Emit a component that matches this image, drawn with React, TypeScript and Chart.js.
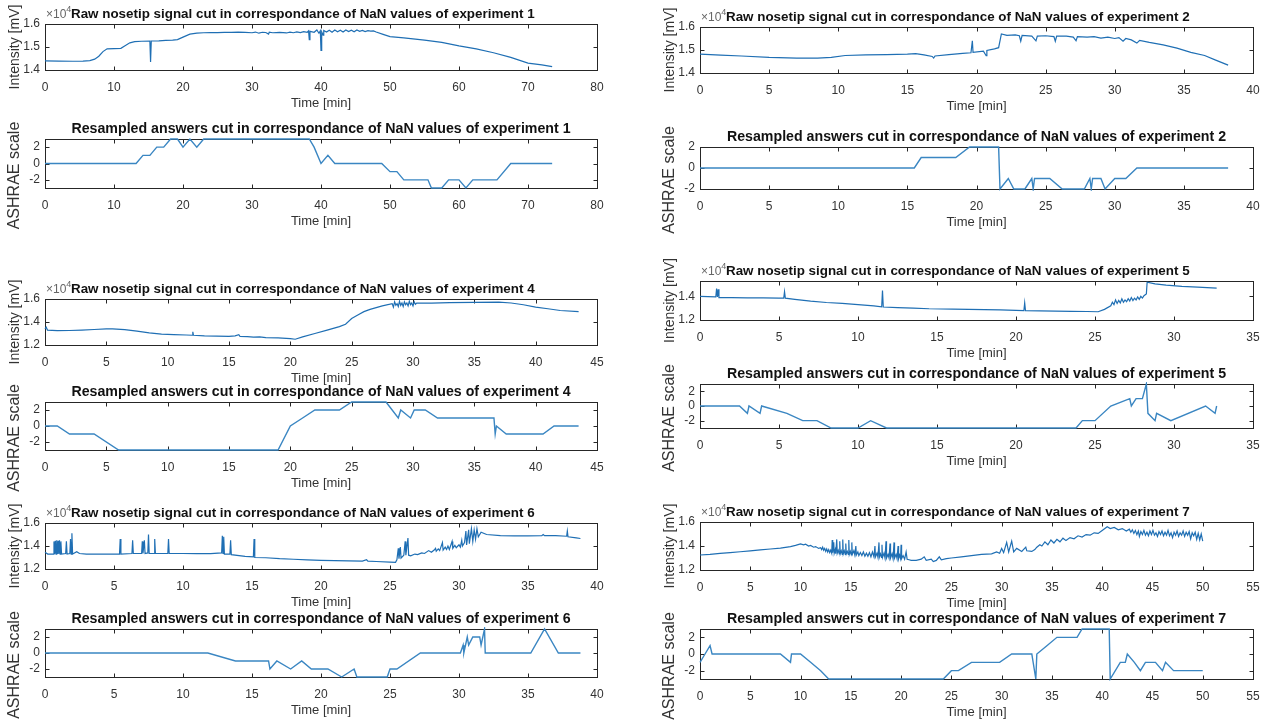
import React, { useEffect, useRef } from "react";
import { Chart, registerables } from "chart.js";
Chart.register(...registerables);

type Pt = [number, number];

// ---------- DATA (time [min], value) ----------
const exp1Signal: Pt[] = [
  [0, 14400], [2, 14390], [4, 14380], [5.5, 14390], [6.5, 14410], [7.2, 14470], [7.8, 14600], [8.4, 14800], [9, 14920],
  [10, 14930], [11, 14940], [11.6, 15050], [12.3, 15180], [13, 15230], [14, 15250], [15.2, 15260], [15.3, 14350],
  [15.4, 15260], [16.5, 15270], [17.5, 15290], [18.5, 15300], [19.2, 15320], [20, 15430], [21, 15560], [22, 15600],
  [23, 15620], [24, 15630], [25, 15625], [26, 15640], [27, 15635], [28, 15650], [29, 15640], [30, 15620], [30.5, 15650],
  [31, 15600], [31.5, 15640], [32, 15630], [32.4, 15560], [32.5, 15640], [33, 15620], [34, 15640], [35, 15610],
  [35.5, 15650], [36, 15620], [36.5, 15660], [37, 15630], [37.5, 15670], [38, 15640], [38.2, 15700], [38.3, 15320],
  [38.4, 15680], [39, 15640], [39.4, 15740], [39.7, 15600], [39.9, 15700], [40, 14850], [40.1, 15660], [40.3, 15520],
  [40.4, 15720], [40.8, 15650], [41.2, 15730], [41.6, 15640], [42, 15740], [42.4, 15660], [42.8, 15730], [43.2, 15650],
  [43.6, 15740], [44, 15670], [44.4, 15730], [44.8, 15660], [45.2, 15740], [45.6, 15680], [46, 15720], [46.4, 15670],
  [46.8, 15710], [47.2, 15690], [47.6, 15700], [48, 15650], [49, 15550], [50, 15450], [52, 15400], [55, 15300],
  [57.5, 15200], [60, 15050], [62.5, 14920], [65, 14750], [67.5, 14550], [70, 14300], [72, 14220], [73.5, 14150],
];
const exp1Answers: Pt[] = [
  [0, 0], [13.2, 0], [14.2, 1], [15.2, 1], [16.2, 2], [17.2, 2], [18.2, 3], [19.2, 3], [20, 2], [21, 3], [22, 2], [23, 3],
  [38.3, 3], [39, 2], [40, 0], [41, 1], [42, 0], [48.8, 0], [50, -1], [51, -1], [52, -2], [55.5, -2], [56, -3], [57.5, -3],
  [58.5, -2], [60, -2], [61, -3], [62, -2], [65.5, -2], [67.5, 0], [73.5, 0],
];

const exp2Signal: Pt[] = [
  [0, 14820], [1.5, 14780], [3, 14740], [5, 14680], [7, 14650], [8.5, 14650], [9.5, 14680], [10.5, 14760], [12, 14790],
  [13.5, 14800], [15, 14820], [15.6, 14840], [16.2, 14790], [16.8, 14720], [16.9, 14650], [17, 14740], [18, 14800],
  [19, 14850], [19.6, 14880], [19.7, 15400], [19.75, 14900], [20.5, 14950], [20.7, 14750], [20.75, 14980], [21.3, 15050],
  [21.6, 15100], [21.8, 15700], [22.2, 15640], [22.8, 15660], [23.1, 15620], [23.2, 15380], [23.3, 15640], [24, 15600],
  [24.3, 15400], [24.4, 15600], [25, 15620], [25.6, 15580], [25.7, 15380], [25.8, 15600], [26.5, 15600], [27, 15560],
  [27.2, 15400], [27.3, 15580], [28, 15560], [28.5, 15580], [29, 15520], [29.5, 15560], [30, 15500], [30.3, 15540],
  [30.6, 15380], [30.8, 15500], [31.2, 15440], [31.6, 15300], [31.8, 15420], [32.5, 15330], [33.5, 15220], [34.5, 15080],
  [35.5, 14900], [36.5, 14760], [37.3, 14560], [38.2, 14340],
];
const exp2Answers: Pt[] = [
  [0, 0], [15.5, 0], [16, 1], [18.5, 1], [19.5, 2], [21.6, 2], [21.7, -2], [22.3, -1], [22.7, -2], [23.5, -2], [24, -1],
  [24.1, -2], [24.2, -1], [25.3, -1], [26.2, -2], [27.8, -2], [28.2, -1], [28.3, -2], [28.4, -1], [29, -1], [29.3, -2],
  [30, -1], [30.8, -1], [31.6, 0], [38.2, 0],
];

const exp4Signal: Pt[] = [
  [0, 13400], [0.1, 13550], [0.2, 13300], [1, 13250], [2, 13260], [3, 13300], [4, 13350], [5, 13400], [5.5, 13400],
  [6.5, 13330], [7.5, 13200], [8.5, 13050], [9.5, 12950], [10.5, 12900], [11.5, 12870], [12, 12850], [12.05, 13150],
  [12.1, 12850], [13, 12800], [14, 12780], [15, 12750], [15.5, 12800], [15.8, 12900], [15.9, 12740], [16.5, 12730],
  [17, 12680], [17.5, 12700], [18, 12640], [19, 12620], [20, 12550], [20.4, 12500], [21, 12700], [22, 13000], [23, 13300],
  [24, 13600], [24.5, 13800], [25, 14300], [25.5, 14600], [26, 14900], [26.5, 15100], [27.5, 15400], [28.3, 15600],
  [28.4, 15300], [28.5, 15750], [28.6, 15450], [28.7, 15600], [28.8, 15350], [28.9, 15800], [29.0, 15450], [29.1, 15650],
  [29.2, 15350], [29.3, 15750], [29.4, 15500], [29.5, 15650], [29.6, 15400], [29.7, 15800], [29.8, 15500], [29.9, 15650],
  [30.0, 15400], [30.1, 15750], [30.2, 15550], [30.3, 15650], [30.6, 15650], [31.5, 15650], [33, 15680], [35, 15700],
  [37, 15720], [38, 15650], [39, 15500], [40, 15300], [41, 15150], [42, 15000], [43.5, 14900],
];
const exp4Answers: Pt[] = [
  [0, 0], [1, 0], [2, -1], [4, -1], [6, -3], [19, -3], [20, 0], [21, 1], [22, 2], [24, 2], [25, 3], [27.8, 3], [28.8, 1],
  [29, 2], [29.8, 1], [30.1, 2], [31, 2], [32, 1], [36.6, 1], [36.7, -1], [36.8, 0], [37.6, -1], [40.6, -1], [41.5, 0],
  [43.5, 0],
];

const exp5Signal: Pt[] = [
  [0, 14000], [0.5, 13980], [1, 13950], [1.05, 14650], [1.1, 13950], [1.15, 14600], [1.2, 13900], [2, 13900], [3, 13880],
  [4, 13870], [5, 13850], [5.3, 13850], [5.35, 14400], [5.4, 13850], [6, 13750], [7, 13600], [8, 13480], [9, 13400],
  [10, 13300], [11, 13200], [11.5, 13120], [11.55, 14500], [11.6, 13100], [12.5, 13050], [13.5, 13000], [14.5, 12950],
  [16, 12920], [17, 12900], [18, 12880], [19, 12850], [20, 12820], [20.5, 12800], [20.55, 13450], [20.6, 12800],
  [21.5, 12780], [22.5, 12750], [23.5, 12730], [24.5, 12720], [25.2, 12700], [25.6, 12900], [26, 13200], [26.1, 13500],
  [26.2, 13300], [26.3, 13700], [26.4, 13400], [26.5, 13650], [26.6, 13450], [26.7, 13800], [26.8, 13500], [26.9, 13700],
  [27.0, 13550], [27.1, 13800], [27.2, 13600], [27.3, 13900], [27.4, 13650], [27.5, 13850], [27.6, 13700], [27.7, 13950],
  [27.8, 13750], [27.9, 14000], [28.0, 13850], [28.1, 14050], [28.25, 14200], [28.3, 15200], [28.8, 15050], [29.5, 14950],
  [30.5, 14850], [31.5, 14780], [32.7, 14700],
];
const exp5Answers: Pt[] = [
  [0, 0], [2.5, 0], [3, -1], [3.1, 0], [3.8, -1], [3.9, 0], [5.5, -1], [6.5, -2], [7.4, -2], [8.3, -3], [10, -3],
  [10.8, -2], [11.8, -3], [23.8, -3], [24.2, -2], [25, -2], [26, 0], [27.2, 1], [27.3, 0], [27.6, 1], [28, 1], [28.25, 3],
  [28.35, -1], [28.8, -2], [28.9, -1], [29.8, -2], [32, 0], [32.6, -1], [32.7, 0],
];

const exp6Signal: Pt[] = [
  [0, 13450], [0.2, 13300], [0.6, 13300], [0.65, 14400], [0.7, 13300], [0.75, 14450], [0.8, 13300], [0.85, 14500],
  [0.9, 13300], [0.95, 14450], [1.0, 13300], [1.05, 14500], [1.1, 13300], [1.15, 14400], [1.2, 13300], [1.5, 13350],
  [1.55, 14400], [1.6, 13300], [1.8, 13350], [1.85, 14600], [1.9, 13300], [1.95, 15100], [2.0, 13300], [2.3, 13500],
  [2.5, 13350], [3, 13300], [4, 13300], [5, 13300], [5.4, 13300], [5.45, 14600], [5.5, 13300], [6.3, 13350],
  [6.35, 14500], [6.4, 13350], [7.0, 13350], [7.05, 14400], [7.1, 13350], [7.2, 14500], [7.25, 13350], [7.45, 13400],
  [7.5, 15000], [7.55, 13350], [7.9, 13350], [7.95, 14600], [8.0, 13350], [8.9, 13350], [8.95, 14600], [9.0, 13350],
  [10, 13350], [11, 13330], [12, 13330], [12.8, 13400], [12.85, 14900], [12.9, 13350], [12.95, 14800], [13.0, 13300],
  [13.4, 13300], [13.45, 14500], [13.5, 13250], [14.5, 13100], [15.1, 13050], [15.15, 14600], [15.2, 13000],
  [16, 12980], [17, 12900], [18, 12850], [19, 12800], [20, 12750], [21, 12720], [22, 12700], [23, 12680], [23.3, 12800],
  [23.4, 12680], [24, 12650], [25, 12600], [25.4, 12580], [25.5, 12800], [25.6, 13800], [25.65, 12900], [25.75, 13900],
  [25.8, 12950], [26, 13200], [26.1, 14400], [26.15, 13200], [26.3, 14700], [26.35, 13200], [26.5, 13150], [26.8, 13300],
  [27, 13250], [27.3, 13400], [27.5, 13350], [27.8, 13600], [28, 13450], [28.2, 13650], [28.3, 13800], [28.35, 13550],
  [28.5, 13750], [28.6, 13600], [28.8, 14300], [28.85, 13650], [29.0, 13900], [29.1, 13700], [29.2, 14000],
  [29.3, 13700], [29.5, 14400], [29.55, 13800], [29.7, 14050], [29.8, 13850], [30, 14100], [30.1, 13900], [30.2, 14500],
  [30.25, 14000], [30.4, 14300], [30.5, 15300], [30.55, 14100], [30.7, 15400], [30.75, 14200], [30.9, 15500], [31, 14400],
  [31.1, 15400], [31.2, 14600], [31.3, 15500], [31.4, 14800], [31.6, 15200], [32, 15000], [33, 14900], [34, 14880],
  [35, 14880], [36, 14900], [36.1, 15000], [36.2, 14900], [37, 14900], [37.8, 14850], [37.85, 15300], [37.9, 14800],
  [38.5, 14700], [38.8, 14650],
];
const exp6Answers: Pt[] = [
  [0, 0], [11.8, 0], [13.8, -1], [16.2, -1], [16.3, -2], [16.8, -1], [17.8, -2], [18.6, -1], [19.3, -2], [20.5, -2],
  [21.5, -3], [22.4, -2], [22.6, -3], [24.8, -3], [25, -2], [25.5, -2], [27.2, 0], [30.1, 0], [30.3, 1], [30.35, 0],
  [30.6, 2], [30.7, 1], [31, 2], [31.5, 2], [31.6, 1], [31.85, 3], [31.9, 0], [35.2, 0], [36.2, 3], [37.2, 0], [38.8, 0],
];

const exp7Signal: Pt[] = [
  [0, 13250], [1, 13300], [2, 13380], [3, 13450], [4, 13520], [5, 13600], [6, 13680], [7, 13750], [8, 13830], [9, 13950],
  [9.5, 14050], [10, 14180], [10.3, 14100], [10.5, 14150], [10.8, 14000], [11.0, 14050], [11.3, 13900], [11.5, 13950],
  [11.8, 13800], [12.0, 13850], [12.1, 13700], [12.2, 13900], [12.3, 13650], [12.4, 13800], [12.5, 13550], [12.6, 13750],
  [12.7, 13500], [12.8, 13700], [12.9, 13450], [13.0, 13650], [13.1, 13400], [13.15, 14500], [13.2, 13450], [13.3, 14300],
  [13.35, 13400], [13.45, 13700], [13.5, 13350], [13.6, 14550], [13.65, 13400], [13.75, 13650], [13.85, 13350],
  [13.9, 14400], [13.95, 13350], [14.05, 13600], [14.15, 13300], [14.2, 14550], [14.25, 13350], [14.35, 13600],
  [14.45, 13300], [14.5, 14200], [14.55, 13350], [14.65, 13550], [14.75, 13300], [14.8, 14500], [14.85, 13300],
  [14.95, 13550], [15.05, 13250], [15.1, 14300], [15.15, 13300], [15.3, 13600], [15.4, 13250], [15.5, 14000],
  [15.55, 13250], [15.7, 13500], [15.8, 13200], [15.95, 13450], [16.1, 13200], [16.25, 13500], [16.4, 13150],
  [16.55, 13400], [16.7, 13150], [16.85, 13450], [17.0, 13100], [17.15, 13500], [17.3, 13100], [17.4, 14000],
  [17.45, 13100], [17.6, 13400], [17.7, 13050], [17.8, 14300], [17.85, 13100], [17.95, 13350], [18.05, 13050],
  [18.1, 14100], [18.15, 13050], [18.3, 13400], [18.4, 13000], [18.5, 14400], [18.55, 13000], [18.7, 13300],
  [18.8, 13000], [18.9, 14200], [18.95, 13000], [19.1, 13350], [19.2, 12950], [19.3, 14300], [19.35, 13000],
  [19.5, 13300], [19.6, 12950], [19.7, 14000], [19.75, 12950], [19.85, 13250], [19.95, 12950], [20.0, 14100],
  [20.05, 12950], [20.2, 13200], [20.35, 12900], [20.5, 13500], [20.6, 12900], [20.8, 12850], [21, 12800], [21.5, 12800],
  [22, 12900], [22.3, 13100], [22.5, 12800], [23, 12900], [23.2, 12700], [23.5, 12800], [23.8, 13100], [24, 12850],
  [24.5, 12950], [25, 13000], [26, 13100], [27, 13200], [28, 13300], [29, 13350], [29.5, 13500], [29.8, 13400],
  [30, 13800], [30.2, 13450], [30.5, 14300], [30.7, 13500], [31, 14400], [31.2, 13500], [31.5, 13800], [32, 13550],
  [32.4, 13900], [32.5, 13600], [33, 13550], [33.3, 13700], [33.5, 13900], [33.8, 14100], [34, 14000], [34.3, 14350],
  [34.6, 14100], [34.9, 14500], [35.2, 14250], [35.5, 14550], [35.8, 14350], [36.1, 14650], [36.4, 14450], [36.8, 14700],
  [37.2, 14600], [37.6, 14850], [38, 14750], [38.4, 14950], [38.8, 14900], [39.2, 15100], [39.6, 15050], [40, 15300],
  [40.5, 15600], [40.8, 15450], [41.2, 15550], [41.6, 15350], [42, 15450], [42.4, 15250], [42.7, 15400], [42.85, 15150],
  [43.0, 15350], [43.15, 15050], [43.3, 15300], [43.45, 14950], [43.6, 15250], [43.7, 14800], [43.85, 15200],
  [44.0, 14950], [44.15, 15300], [44.3, 14900], [44.45, 15150], [44.6, 14850], [44.75, 15250], [44.9, 14950],
  [45.05, 15300], [45.2, 14900], [45.35, 15100], [45.5, 14800], [45.65, 15200], [45.8, 14950], [45.95, 15250],
  [46.1, 14850], [46.25, 15150], [46.4, 14900], [46.55, 15300], [46.7, 14850], [46.85, 15100], [47.0, 14700],
  [47.15, 15150], [47.3, 14900], [47.45, 15250], [47.6, 14800], [47.75, 15100], [47.9, 14900], [48.05, 15250],
  [48.2, 14800], [48.35, 15150], [48.5, 14900], [48.65, 15200], [48.8, 14600], [48.95, 15100], [49.1, 14850],
  [49.25, 15150], [49.4, 14550], [49.55, 15050], [49.7, 14500], [49.85, 15000], [50.0, 14400],
];
const exp7Answers: Pt[] = [
  [0, -1], [0.5, 0], [1, 1], [1.2, 0], [8, 0], [9, -1], [9.1, 0], [10, 0], [11, -1], [12, -2], [12.8, -3], [24.2, -3],
  [25, -2], [25.7, -2], [27, -1], [29.8, -1], [31, 0], [33, 0], [33.4, -3], [33.5, 0], [34.5, 1], [35.5, 2], [37.5, 2],
  [38, 3], [40.7, 3], [40.8, -3], [41.8, -1], [42.3, -1], [42.5, 0], [43.2, -1], [43.8, -2], [44.3, -1], [45.3, -1],
  [46, -2], [46.3, -1], [47.1, -2], [50, -2],
];

// ---------- AXIS TICKS ----------
const signalTicksFine = [14000, 15000, 16000];
const signalTicksWide = [12000, 14000, 16000];
const signalTicksExp5 = [12000, 14000];
const answerTicks = [-2, 0, 2];

const SIGNAL_TITLE = (n: number) => `Raw nosetip signal cut in correspondance of NaN values of experiment ${n}`;
const ANSWER_TITLE = (n: number) => `Resampled answers cut in correspondance of NaN values of experiment ${n}`;

// ---------- LAYOUT ----------
const FONT = '"Liberation Sans", Arial, Helvetica, sans-serif';
const L = 45; // room left of plot box
const T = 24; // room above plot box
const B = 52; // room below plot box
const R = 20; // room right of plot box
const LEFT_X = 45, RIGHT_X = 700, LEFT_W = 552, RIGHT_W = 553;
const SIGNAL_COLOR = "#1f6fb4";
const ANSWER_COLOR = "#3a86c2";

type PanelSpec = {
  title: string;
  exponent: boolean;
  yLabel: string;
  yLabelShift: number;
  data: Pt[];
  xMax: number;
  xStep: number;
  yMin: number;
  yMax: number;
  yTicks: number[];
  signal: boolean;
  box: { left: number; top: number; width: number; height: number };
};

const sig = (n: number, data: Pt[], xMax: number, xStep: number, yMin: number, yMax: number, yTicks: number[], left: number, width: number, top: number, height: number): PanelSpec => ({
  title: SIGNAL_TITLE(n), exponent: true, yLabel: "Intensity [mV]", yLabelShift: 0, data, xMax, xStep, yMin, yMax, yTicks, signal: true,
  box: { left, top, width, height },
});
const ans = (n: number, data: Pt[], xMax: number, xStep: number, yMin: number, yMax: number, left: number, width: number, top: number, height: number): PanelSpec => ({
  title: ANSWER_TITLE(n), exponent: false, yLabel: "ASHRAE scale", yLabelShift: 12, data, xMax, xStep, yMin, yMax, yTicks: answerTicks, signal: false,
  box: { left, top, width, height },
});

const panels: PanelSpec[] = [
  sig(1, exp1Signal, 80, 10, 14000, 16000, signalTicksFine, LEFT_X, LEFT_W, 24, 46),
  ans(1, exp1Answers, 80, 10, -3, 3, LEFT_X, LEFT_W, 139, 49),
  sig(2, exp2Signal, 40, 5, 14000, 16000, signalTicksFine, RIGHT_X, RIGHT_W, 27, 46),
  ans(2, exp2Answers, 40, 5, -2, 2, RIGHT_X, RIGHT_W, 147, 42),
  sig(4, exp4Signal, 45, 5, 12000, 16000, signalTicksWide, LEFT_X, LEFT_W, 299, 46),
  ans(4, exp4Answers, 45, 5, -3, 3, LEFT_X, LEFT_W, 402, 48),
  sig(5, exp5Signal, 35, 5, 12000, 15300, signalTicksExp5, RIGHT_X, RIGHT_W, 281, 39),
  ans(5, exp5Answers, 35, 5, -3, 3, RIGHT_X, RIGHT_W, 384, 44),
  sig(6, exp6Signal, 40, 5, 12000, 16000, signalTicksWide, LEFT_X, LEFT_W, 523, 46),
  ans(6, exp6Answers, 40, 5, -3, 3, LEFT_X, LEFT_W, 629, 48),
  sig(7, exp7Signal, 55, 5, 12000, 16000, signalTicksWide, RIGHT_X, RIGHT_W, 522, 48),
  ans(7, exp7Answers, 55, 5, -3, 3, RIGHT_X, RIGHT_W, 629, 50),
];

// ---------- MATLAB-like decorations ----------
const matlabPlugin = {
  id: "matlabAxes",
  beforeDatasetsDraw(chart: any) {
    const { ctx, chartArea: a, scales } = chart;
    ctx.save();
    ctx.strokeStyle = "#262626";
    ctx.lineWidth = 1;
    const l = Math.round(a.left) + 0.5, t = Math.round(a.top) + 0.5;
    const r = Math.round(a.right) + 0.5, b = Math.round(a.bottom) + 0.5;
    ctx.strokeRect(l, t, r - l, b - t);
    const tl = 4;
    ctx.beginPath();
    const xs = scales.x;
    xs.ticks.forEach((_t: any, i: number) => {
      const px = Math.round(xs.getPixelForTick(i)) + 0.5;
      ctx.moveTo(px, b); ctx.lineTo(px, b - tl);
      ctx.moveTo(px, t); ctx.lineTo(px, t + tl);
    });
    const ys = scales.y;
    ys.ticks.forEach((_t: any, i: number) => {
      const py = Math.round(ys.getPixelForTick(i)) + 0.5;
      ctx.moveTo(l, py); ctx.lineTo(l + tl, py);
      ctx.moveTo(r, py); ctx.lineTo(r - tl, py);
    });
    ctx.stroke();
    ctx.restore();
  },
  afterDraw(chart: any, _args: any, opts: any) {
    const { ctx, chartArea: a } = chart;
    ctx.save();
    const ty = a.top - 10;
    ctx.fillStyle = "#111";
    ctx.textBaseline = "middle";
    if (opts.exponent) {
      ctx.font = `bold 13.4px ${FONT}`;
      ctx.textAlign = "left";
      ctx.fillText(opts.title, a.left + 26, ty);
      ctx.fillStyle = "#666";
      ctx.font = `12px ${FONT}`;
      ctx.fillText("\u00d710", a.left + 1, ty + 1);
      const w = ctx.measureText("\u00d710").width;
      ctx.font = `9px ${FONT}`;
      ctx.fillText("4", a.left + 1 + w, ty - 4);
    } else {
      ctx.font = `bold 14.2px ${FONT}`;
      ctx.textAlign = "center";
      ctx.fillText(opts.title, (a.left + a.right) / 2, ty);
    }

    // y label
    ctx.save();
    ctx.translate(15, (a.top + a.bottom) / 2 + opts.yLabelShift);
    ctx.rotate(-Math.PI / 2);
    ctx.textAlign = "center";
    ctx.textBaseline = "middle";
    ctx.fillStyle = "#333";
    ctx.font = `${opts.exponent ? 14 : 16}px ${FONT}`;
    ctx.fillText(opts.yLabel, 0, 0);
    ctx.restore();
    ctx.restore();
  },
};

function Panel({ spec }: { spec: PanelSpec }) {
  const ref = useRef<HTMLCanvasElement>(null);
  const w = L + spec.box.width + R;
  const h = T + spec.box.height + B;
  useEffect(() => {
    const chart = new Chart(ref.current as HTMLCanvasElement, {
      type: "line",
      data: {
        datasets: [
          {
            data: spec.data.map(([x, y]) => ({ x, y })),
            borderColor: spec.signal ? SIGNAL_COLOR : ANSWER_COLOR,
            borderWidth: spec.signal ? 1.2 : 1.4,
            pointRadius: 0,
            tension: 0,
            clip: 2,
          },
        ],
      },
      options: {
        animation: false,
        responsive: false,
        events: [],
        layout: { padding: { top: T, right: R, left: 0, bottom: 0 } },
        plugins: {
          legend: { display: false },
          tooltip: { enabled: false },
          matlabAxes: { title: spec.title, exponent: spec.exponent, yLabel: spec.yLabel, yLabelShift: spec.yLabelShift },
        } as any,
        scales: {
          x: {
            type: "linear",
            min: 0,
            max: spec.xMax,
            grid: { display: false, drawTicks: false },
            border: { display: false },
            ticks: { stepSize: spec.xStep, autoSkip: false, maxRotation: 0, padding: 10, color: "#333", font: { size: 12, family: FONT } },
            title: { display: true, text: "Time [min]", color: "#333", font: { size: 13, family: FONT }, padding: { top: 0, bottom: 11 } },
            afterFit: (s: any) => { s.height = B; s.paddingLeft = 0; s.paddingRight = 0; },
          },
          y: {
            type: "linear",
            min: spec.yMin,
            max: spec.yMax,
            grid: { display: false, drawTicks: false },
            border: { display: false },
            afterBuildTicks: (s: any) => { s.ticks = spec.yTicks.map((v) => ({ value: v })); },
            ticks: {
              padding: 5,
              color: "#333",
              font: { size: 12, family: FONT },
              callback: (v: any) => (spec.signal ? String(Number(v) / 10000) : String(v)),
            },
            afterFit: (s: any) => { s.width = L; s.paddingTop = 0; s.paddingBottom = 0; },
          },
        },
      } as any,
      plugins: [matlabPlugin],
    });
    return () => chart.destroy();
  }, []);
  return (
    <canvas
      ref={ref}
      width={w}
      height={h}
      style={{ position: "absolute", left: spec.box.left - L, top: spec.box.top - T, width: w, height: h }}
    />
  );
}

export default function App() {
  return (
    <div>
      {panels.map((p, i) => (
        <Panel key={i} spec={p} />
      ))}
    </div>
  );
}
